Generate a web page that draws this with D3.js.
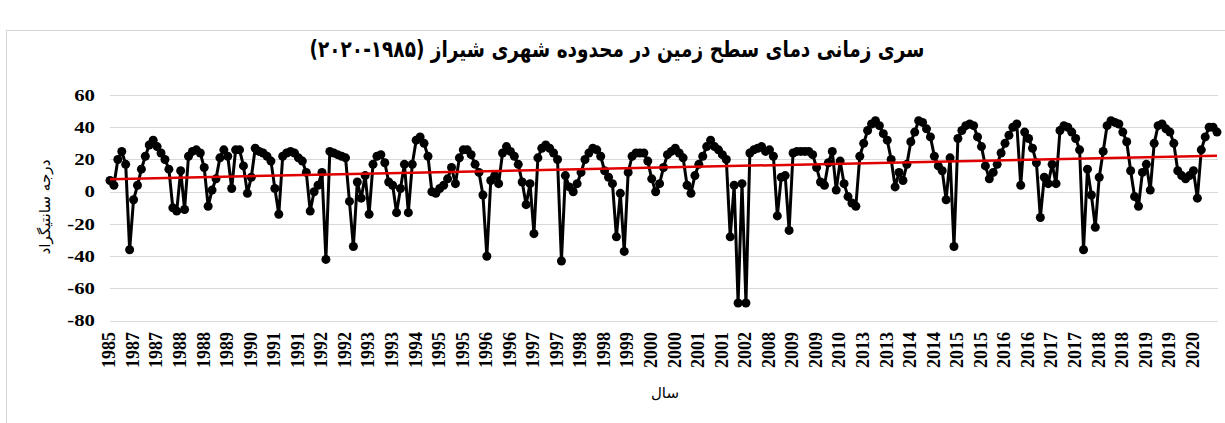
<!DOCTYPE html>
<html>
<head>
<meta charset="utf-8">
<script src="https://cdn.jsdelivr.net/npm/d3@7"></script>
<style>
  body { margin: 0; background: #fff; }
  .grid line { stroke: #d9d9d9; stroke-width: 1; }
  .num { font-family: "Liberation Serif", "Times New Roman", serif; font-weight: bold; fill: #000; }
  .fa { font-family: "DejaVu Sans", sans-serif; fill: #000; }
</style>
</head>
<body>
<script>
var chartTitle = "سری زمانی دمای سطح زمین در محدوده شهری شیراز (۱۹۸۵-۲۰۲۰)";
var yTitle = "درجه سانتیگراد";
var xTitle = "سال";

// one label every 6 images
var tickStep = 6;
var tickYears = ["1985","1987","1987","1988","1988","1989","1990","1991","1991","1992",
                 "1992","1993","1993","1994","1995","1995","1996","1996","1997","1997",
                 "1998","1998","1999","2000","2000","2001","2001","2002","2008","2009",
                 "2009","2010","2013","2013","2014","2014","2015","2015","2016","2016",
                 "2017","2017","2018","2018","2019","2019","2020"];

var yTicks = [-80, -60, -40, -20, 0, 20, 40, 60];

// land surface temperature (deg C)
var lst = [
   7,   4,  20,  25,  17, -36,  -5,   4,  14,  22,
  29,  32,  28,  24,  20,  14, -10, -12,  13, -11,
  22,  25,  26,  24,  15,  -9,   1,   8,  21,  26,
  22,   2,  26,  26,  16,  -1,   9,  27,  25,  24,
  22,  19,   2, -14,  22,  24,  25,  24,  21,  19,
  12, -12,   0,   4,  12, -42,  25,  24,  23,  22,
  21,  -6, -34,   6,  -4,  10, -14,  17,  22,  23,
  18,   6,   4, -13,   2,  17, -13,  17,  32,  34,
  30,  22,   0,  -1,   2,   4,   8,  15,   5,  21,
  26,  26,  23,  17,  12,  -2, -40,   7,  10,   5,
  24,  28,  25,  22,  17,   6,  -8,   5, -26,  21,
  27,  29,  27,  24,  20, -43,  10,   3,   0,   5,
  12,  20,  24,  27,  26,  22,  13,   9,   5, -28,
  -1, -37,  12,  22,  24,  24,  24,  19,   8,   0,
   5,  15,  23,  25,  27,  24,  21,   4,  -1,  10,
  17,  22,  28,  32,  28,  26,  23,  20, -28,   4,
 -69,   5, -69,  24,  26,  27,  28,  25,  26,  22,
 -15,   9,  10, -24,  24,  25,  25,  25,  25,  23,
  15,   6,   4,  18,  25,   1,  19,   5,  -3,  -7,
  -9,  22,  30,  38,  42,  44,  41,  36,  32,  20,
   3,  12,   7,  17,  31,  37,  44,  43,  39,  34,
  22,  16,  13,  -5,  21, -34,  33,  38,  41,  42,
  41,  34,  28,  16,   8,  12,  17,  24,  30,  35,
  40,  42,   4,  37,  33,  27,  18, -16,   9,   5,
  17,   5,  38,  41,  40,  37,  33,  26, -36,  14,
  -2, -22,   9,  25,  41,  44,  43,  42,  37,  31,
  13,  -3,  -9,  12,  17,   1,  30,  41,  42,  39,
  37,  30,  13,  10,   8,  10,  13,  -4,  26,  34,
  40,  40,  37
];

var width = 1225, height = 423;
var plot = {left: 110, right: 1218, top: 95, bottom: 320.7};

var svg = d3.select("body").append("svg")
    .attr("width", width)
    .attr("height", height);

// chart frame
svg.append("rect")
    .attr("x", 6.5).attr("y", 30.5)
    .attr("width", 1240).attr("height", 420)
    .attr("fill", "#fff")
    .attr("stroke", "#d4d4d4");

var x = d3.scaleLinear().domain([0, lst.length - 1]).range([plot.left, plot.right - 1]);
var y = d3.scaleLinear().domain([-80, 60]).range([plot.bottom, plot.top]);

// gridlines
svg.append("g")
    .attr("class", "grid")
  .selectAll("line")
    .data(yTicks)
  .enter().append("line")
    .attr("x1", plot.left)
    .attr("x2", plot.right)
    .attr("y1", function(d) { return Math.round(y(d)) + 0.5; })
    .attr("y2", function(d) { return Math.round(y(d)) + 0.5; });

// y tick labels
svg.append("g")
  .selectAll("text")
    .data(yTicks)
  .enter().append("text")
    .attr("class", "num")
    .attr("transform", function(d) { return "translate(95," + y(d) + ") scale(1.3,1)"; })
    .attr("dy", "0.35em")
    .attr("text-anchor", "end")
    .style("font-size", "16px")
    .text(function(d) { return d; });

// x tick labels
svg.append("g")
  .selectAll("text")
    .data(tickYears)
  .enter().append("text")
    .attr("class", "num")
    .attr("transform", function(d, j) { return "translate(" + (x(j * tickStep) - 1) + ",332) rotate(-90)"; })
    .attr("dy", "0.35em")
    .attr("text-anchor", "end")
    .style("font-size", "18px")
    .text(function(d) { return d; });

// series
svg.append("path")
    .datum(lst)
    .attr("fill", "none")
    .attr("stroke", "#000")
    .attr("stroke-width", 3)
    .attr("stroke-linejoin", "round")
    .attr("d", d3.line()
                 .x(function(d, i) { return x(i); })
                 .y(function(d) { return y(d); }));

svg.append("g")
  .selectAll("circle")
    .data(lst)
  .enter().append("circle")
    .attr("cx", function(d, i) { return x(i); })
    .attr("cy", function(d) { return y(d); })
    .attr("r", 4.5)
    .attr("fill", "#000");

// linear trend
var n = lst.length,
    mx = d3.mean(lst, function(d, i) { return i; }),
    my = d3.mean(lst);
var sxy = d3.sum(lst, function(d, i) { return (i - mx) * (d - my); }),
    sxx = d3.sum(lst, function(d, i) { return (i - mx) * (i - mx); });
var slope = sxy / sxx, icept = my - slope * mx;

svg.append("line")
    .attr("x1", x(0)).attr("y1", y(icept))
    .attr("x2", x(n - 1)).attr("y2", y(icept + slope * (n - 1)))
    .attr("stroke", "#e00000")
    .attr("stroke-width", 2.5);

// titles
var t = svg.append("text")
    .attr("class", "fa")
    .attr("text-anchor", "middle")
    .style("direction", "rtl")
    .style("font-size", "23px")
    .style("font-weight", "bold")
    .text(chartTitle);
var tw = t.node().getComputedTextLength();
t.attr("transform", "translate(617,57) scale(" + (615 / tw) + ",1)");

var yt = svg.append("text")
    .attr("class", "fa")
    .attr("text-anchor", "middle")
    .style("direction", "rtl")
    .style("font-size", "15px")
    .text(yTitle);
var yw = yt.node().getComputedTextLength();
yt.attr("transform", "translate(50,207) rotate(-90) scale(" + (95 / yw) + ",1)");

svg.append("text")
    .attr("class", "fa")
    .attr("text-anchor", "middle")
    .attr("x", 665)
    .attr("y", 398)
    .style("direction", "rtl")
    .style("font-size", "15px")
    .text(xTitle);
</script>
</body>
</html>
